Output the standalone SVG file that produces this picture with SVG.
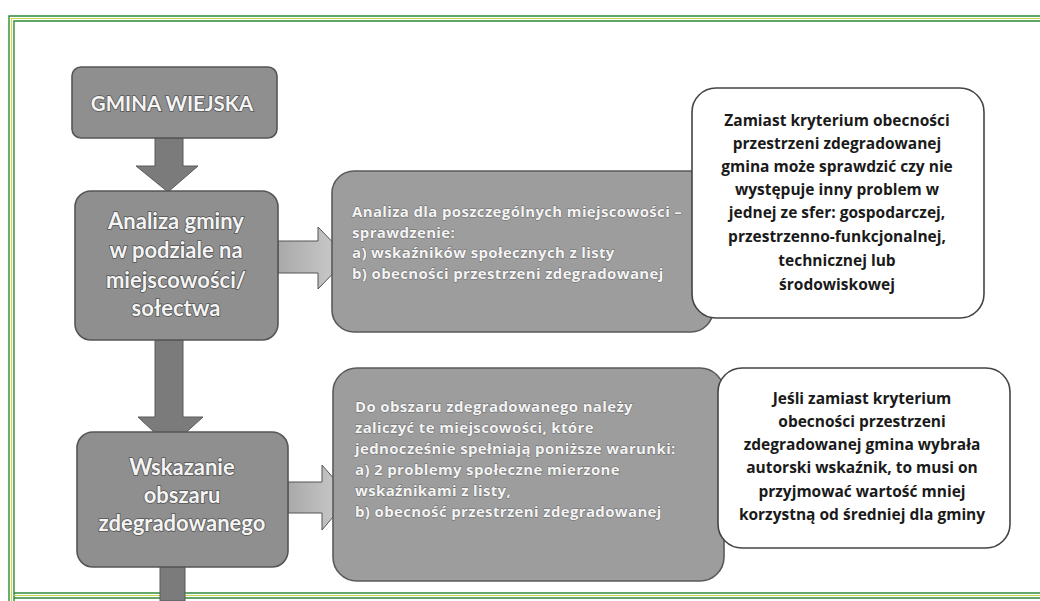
<svg xmlns="http://www.w3.org/2000/svg" width="1040" height="601" viewBox="0 0 1040 601">
<style>
.frameO{fill:none;stroke:#2f8a3a;stroke-width:1.4}
.frameI{fill:none;stroke:#c9d94a;stroke-width:1.2}
.gbox{fill:#8f8f8f;stroke:#555;stroke-width:1.6}
.lbox{fill:#9d9d9d;stroke:#5a5a5a;stroke-width:1.6}
.wbox{fill:#fff;stroke:#444;stroke-width:1.6}
.dn{fill:#7b7b7b;stroke:#5a5a5a;stroke-width:1}
.rt{fill:url(#hg);stroke:#555;stroke-width:1}
.big{font-family:Lato,"Open Sans","Liberation Sans",sans-serif;font-weight:bold;fill:#f4f4f4;stroke:#555;stroke-width:1.6;paint-order:stroke;text-anchor:middle}
.mid{font-family:"Open Sans",Lato,"Liberation Sans",sans-serif;font-weight:bold;font-size:15px;letter-spacing:0.35px;fill:#f4f4f4;stroke:#6a6a6a;stroke-width:1;paint-order:stroke}
.blk{font-family:"Open Sans",Lato,"Liberation Sans",sans-serif;font-weight:bold;font-size:15.5px;fill:#1a1a1a;text-anchor:middle}
</style>
<defs>
<linearGradient id="hg" x1="0" y1="0" x2="1" y2="0">
<stop offset="0" stop-color="#a9a9a9"/>
<stop offset="1" stop-color="#cfcfcf"/>
</linearGradient>
</defs>
<rect width="1040" height="601" fill="#fff"/>
<g id="frame">
<path class="frameO" d="M9,601 V16 H1040"/>
<path class="frameI" d="M11.5,601 V18.5 H1040"/>
<path class="frameO" d="M14,601 V21 H1040"/>
<path class="frameO" d="M14,593 H1040"/>
<path class="frameI" d="M14,595.5 H1040"/>
<path class="frameO" d="M14,598 H1040"/>
</g>
<g id="connectors">
<path class="dn" d="M155,138 H183 V166 H198 L168,192 L136,166 H155 Z"/>
<path class="dn" d="M155,340 H183 V417 H203 L170,447 L138,417 H155 Z"/>
<path class="dn" d="M160,567 H185 V601 H160 Z"/>
<path class="rt" d="M278,241 H318 V227 L348,258 L318,289 V273 H278 Z"/>
<path class="rt" d="M288,482 H322 V465 L350,497 L322,530 V513 H288 Z"/>
</g>
<g id="n1">
<rect class="gbox" x="72" y="67" width="205" height="71" rx="9"/>
<text class="big" x="172" y="111" font-size="20.5">GMINA WIEJSKA</text>
</g>
<g id="n2">
<rect class="gbox" x="75" y="191" width="203" height="149" rx="16"/>
<text class="big" font-size="22"><tspan x="176" y="229">Analiza gminy</tspan><tspan x="176" y="258">w podziale na</tspan><tspan x="176" y="288">miejscowości/</tspan><tspan x="176" y="316">sołectwa</tspan></text>
</g>
<g id="n3">
<rect class="gbox" x="77" y="432" width="211" height="135" rx="16"/>
<text class="big" font-size="22"><tspan x="182" y="475">Wskazanie</tspan><tspan x="182" y="503">obszaru</tspan><tspan x="182" y="531">zdegradowanego</tspan></text>
</g>
<g id="n4">
<rect class="lbox" x="332" y="171" width="381" height="161" rx="22"/>
<text class="mid"><tspan x="352" y="217">Analiza dla poszczególnych miejscowości –</tspan><tspan x="352" y="237.5">sprawdzenie:</tspan><tspan x="352" y="258">a) wskaźników społecznych z listy</tspan><tspan x="352" y="278.5">b) obecności przestrzeni zdegradowanej</tspan></text>
</g>
<g id="n5">
<rect class="lbox" x="333" y="368" width="391" height="213" rx="24"/>
<text class="mid"><tspan x="355" y="412">Do obszaru zdegradowanego należy</tspan><tspan x="355" y="433">zaliczyć te miejscowości, które</tspan><tspan x="355" y="454">jednocześnie spełniają poniższe warunki:</tspan><tspan x="355" y="475">a) 2 problemy społeczne mierzone</tspan><tspan x="355" y="496">wskaźnikami z listy,</tspan><tspan x="355" y="517">b) obecność przestrzeni zdegradowanej</tspan></text>
</g>
<g id="n6">
<rect class="wbox" x="692" y="88" width="292" height="230" rx="24"/>
<text class="blk"><tspan x="837" y="126">Zamiast kryterium obecności</tspan><tspan x="837" y="149">przestrzeni zdegradowanej</tspan><tspan x="837" y="172">gmina może sprawdzić czy nie</tspan><tspan x="837" y="195">występuje inny problem w</tspan><tspan x="837" y="218">jednej ze sfer: gospodarczej,</tspan><tspan x="837" y="242">przestrzenno-funkcjonalnej,</tspan><tspan x="837" y="266">technicznej lub</tspan><tspan x="837" y="290">środowiskowej</tspan></text>
</g>
<g id="n7">
<rect class="wbox" x="718" y="368" width="292" height="180" rx="24"/>
<text class="blk"><tspan x="862" y="404">Jeśli zamiast kryterium</tspan><tspan x="862" y="427">obecności przestrzeni</tspan><tspan x="862" y="450">zdegradowanej gmina wybrała</tspan><tspan x="862" y="473">autorski wskaźnik, to musi on</tspan><tspan x="862" y="497">przyjmować wartość mniej</tspan><tspan x="862" y="520">korzystną od średniej dla gminy</tspan></text>
</g>
</svg>
